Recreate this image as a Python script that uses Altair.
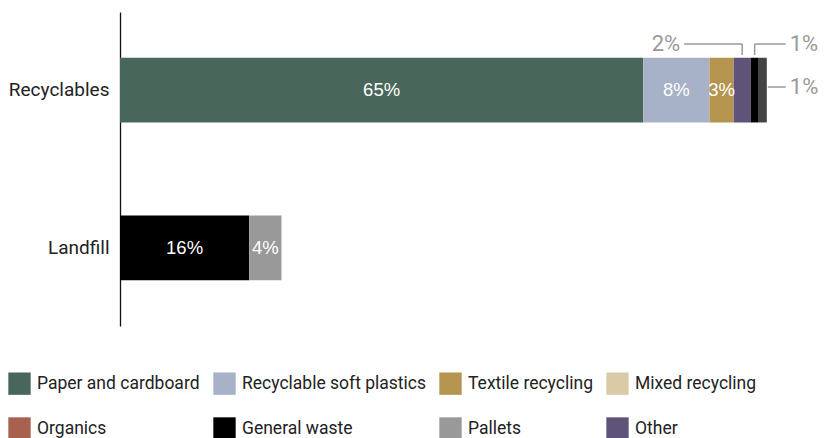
import altair as alt
import pandas as pd

# ---- data ----
categories = ["Recyclables", "Landfill"]

rec_streams = ["Paper and cardboard", "Recyclable soft plastics", "Textile recycling",
               "Other", "General waste", "Unspecified"]
rec_values = [64.8, 8.2, 3.0, 2.1, 1.0, 1.0]
rec_labels = ["65%", "8%", "3%", "2%", "1%", "1%"]

land_streams = ["General waste", "Pallets"]
land_values = [16.0, 4.0]
land_labels = ["16%", "4%"]

legend_order = ["Paper and cardboard", "Recyclable soft plastics", "Textile recycling",
                "Mixed recycling", "Organics", "General waste", "Pallets", "Other"]
legend_colors = ["#48665a", "#a7b1c7", "#b5944f", "#dbcaa6", "#a8604f", "#000000",
                 "#999999", "#5e5479"]
extra_streams = ["Unspecified"]
extra_colors = ["#444444"]

# ---- layout constants ----
W, H = 646, 314
XMAX = 80.0
PX = W / XMAX  # pixels per percentage point

rows = []
for cat, streams, vals, labs in [("Recyclables", rec_streams, rec_values, rec_labels),
                                 ("Landfill", land_streams, land_values, land_labels)]:
    s = 0.0
    for st, v, lb in zip(streams, vals, labs):
        rows.append(dict(category=cat, stream=st, start=s, end=s + v, mid=s + v / 2,
                         label=lb, inside=v >= 2.5))
        s += v
df = pd.DataFrame(rows)

# annotations for the thin Recyclables segments
rec = df[df.category == "Recyclables"].reset_index(drop=True)
ann = pd.DataFrame([
    dict(x0=rec.loc[3, "mid"], x1=rec.loc[3, "mid"] - 58 / PX, ybar=43, yline=32,
         label=rec.loc[3, "label"], side="right", vert=True),
    dict(x0=rec.loc[4, "mid"], x1=rec.loc[4, "mid"] + 31 / PX, ybar=43, yline=32,
         label=rec.loc[4, "label"], side="left", vert=True),
    dict(x0=rec.loc[5, "end"] + 1 / PX, x1=rec.loc[5, "end"] + 19 / PX, ybar=75, yline=75,
         label=rec.loc[5, "label"], side="left", vert=False),
])

FONT = "Roboto"
AFONT = "Liberation Sans"
xscale = alt.Scale(domain=[0, XMAX], nice=False, zero=True)

color = alt.Color(
    "stream:N",
    scale=alt.Scale(domain=legend_order + extra_streams, range=legend_colors + extra_colors),
    legend=alt.Legend(
        values=legend_order, orient="none", legendX=-112, legendY=360,
        direction="horizontal", columns=4, symbolType="square", symbolSize=500,
        symbolStrokeWidth=0, symbolOpacity=1, labelFontSize=17.5, labelFont=FONT,
        labelColor="#222222", title=None, columnPadding=13, rowPadding=22,
        labelOffset=6, labelLimit=300,
    ),
)

base = alt.Chart(df)
bars = base.mark_bar(strokeWidth=0).encode(
    x=alt.X("start:Q", scale=xscale, axis=None),
    x2="end:Q",
    y=alt.Y("category:N", sort=categories, title=None,
            scale=alt.Scale(paddingInner=0.59, paddingOuter=0.29),
            axis=alt.Axis(ticks=False, labelFontSize=19, labelFont=FONT,
                          labelColor="#222222", labelPadding=11, domainColor="#111111",
                          domainWidth=1.3, grid=False)),
    color=color,
)
inner_text = base.transform_filter("datum.inside").mark_text(
    color="white", fontSize=18.5, font=AFONT
).encode(
    x=alt.X("mid:Q", scale=xscale),
    y=alt.Y("category:N", sort=categories),
    text="label:N",
)

abase = alt.Chart(ann)
vrules = abase.transform_filter("datum.vert").mark_rule(color="#999999", strokeWidth=1.5).encode(
    x=alt.X("x0:Q", scale=xscale),
    y=alt.Y("ybar:Q", scale=None),
    y2="yline:Q",
)
hrules = abase.mark_rule(color="#999999", strokeWidth=1.5).encode(
    x=alt.X("x0:Q", scale=xscale),
    x2="x1:Q",
    y=alt.Y("yline:Q", scale=None),
)
text_r = abase.transform_filter("datum.side == 'right'").mark_text(
    align="right", baseline="middle", dx=-4, fontSize=22, font=FONT, color="#999999"
).encode(x=alt.X("x1:Q", scale=xscale), y=alt.Y("yline:Q", scale=None), text="label:N")
text_l = abase.transform_filter("datum.side == 'left'").mark_text(
    align="left", baseline="middle", dx=4, fontSize=22, font=FONT, color="#999999"
).encode(x=alt.X("x1:Q", scale=xscale), y=alt.Y("yline:Q", scale=None), text="label:N")

chart = alt.layer(bars, inner_text, vrules, hrules, text_r, text_l).properties(
    width=W, height=H,
    autosize=alt.AutoSizeParams(type="none"),
    padding={"left": 112, "top": 4, "right": 52, "bottom": 112},
).configure(background="white").configure_view(strokeWidth=0)

chart.save("out.html", embed_options={"renderer": "svg", "actions": False})
